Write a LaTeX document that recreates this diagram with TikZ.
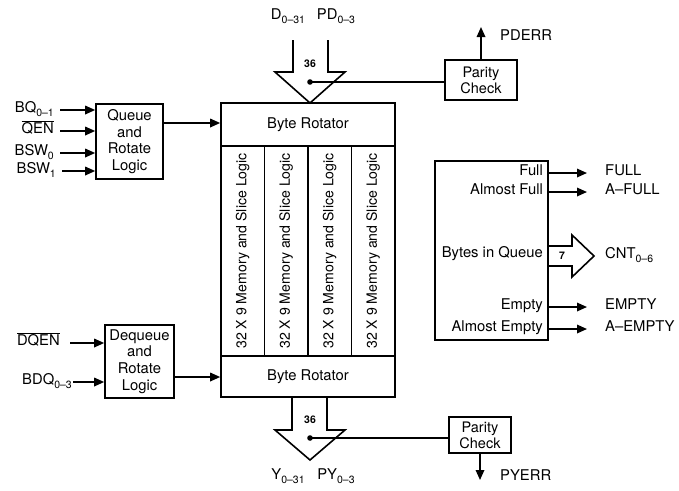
\documentclass[tikz,border=0pt]{standalone}
\usepackage{fontspec}
\setmainfont{TeX Gyre Heros}
\usetikzlibrary{arrows.meta}
\newcommand{\lsub}[1]{\raisebox{-0.45ex}{\fontsize{10.5}{10.5}\selectfont #1}}
\begin{document}
\begin{tikzpicture}[x=1pt,y=-1pt,
  every node/.style={font=\fontsize{14.8}{16.7}\selectfont, inner sep=0pt},
  box/.style={draw, line width=1.6pt, align=center},
  sig/.style={line width=1.7pt, -{Triangle[length=10pt,width=8.5pt]}},
  wire/.style={line width=1.5pt},
  fat/.style={line width=1.6pt, line join=miter},
  lbl/.style={anchor=mid east},
  olbl/.style={anchor=mid west},
  small/.style={font=\fontsize{10.5}{11}\selectfont\bfseries}]
\useasboundingbox (0,0) rectangle (679,490);

% main block
\node[box, minimum width=174pt, minimum height=43pt] (br1) at (308,124.5) {Byte Rotator};
\node[box, minimum width=174pt, minimum height=41pt] (br2) at (308,376.5) {Byte Rotator};
\foreach \i/\x in {1/242.75,2/286.25,3/329.75,4/373.25}{
  \node[box, rotate=90, minimum width=210pt, minimum height=43.5pt, font=\fontsize{14.1}{16}\selectfont] (col\i) at (\x,251) {32 X 9 Memory and Slice Logic};
}

% queue logic
\node[box, minimum width=67pt, minimum height=75pt] (qrl) at (129.5,141.5) {Queue\\and\\Rotate\\Logic};
\node[lbl] (bq) at (54,110) {BQ\lsub{0\textendash1}};
\node[lbl] (qen) at (54,131) {$\overline{\mbox{QEN}}$};
\node[lbl] (bsw0) at (54,153) {BSW\lsub{0}};
\node[lbl] (bsw1) at (56,171) {BSW\lsub{1}};
\foreach \n in {bq,qen,bsw0,bsw1}{
  \draw[sig, shorten <=6pt] (\n.mid east) -- (qrl.west |- \n.mid east);
}
\draw[sig] (qrl.east |- 0,123) -- (br1.west |- 0,123);

% dequeue logic
\node[box, minimum width=69pt, minimum height=73pt] (drl) at (139.5,361.5) {Dequeue\\and\\Rotate\\Logic};
\node[lbl] (dqen) at (60,343) {$\overline{\mbox{DQEN}}$};
\node[lbl] (bdq) at (72,382) {BDQ\lsub{0\textendash3}};
\draw[sig, shorten <=10pt] (dqen.mid east) -- (drl.west |- dqen.mid east);
\draw[sig, shorten <=1pt] (bdq.mid east) -- (drl.west |- bdq.mid east);
\draw[sig] (drl.east |- 0,377) -- (br2.west |- 0,377);

% top fat arrow & parity
\draw[fat] (293,40) -- (293,72) -- (275,72) -- (310,103) -- (345,72) -- (328,72) -- (328,40);
\node[small] (n36a) at (310,64) {36};
\node (din) at (288,16) {D\lsub{0\textendash31}};
\node (pdin) at (336,16) {PD\lsub{0\textendash3}};
\node[box, minimum width=72pt, minimum height=40pt, font=\fontsize{14.5}{16}\selectfont] (pc1) at (481,80) {Parity\\Check};
\coordinate (tdot) at (310,82);
\fill (tdot) circle (2.8pt);
\draw[wire] (tdot) -- (pc1.west |- tdot);
\coordinate (pdtip) at (481,27);
\draw[sig] (pc1.north) -- (pdtip);
\node[olbl] (pderr) at (500,38) {PDERR};

% bottom fat arrow & parity
\draw[fat] (292,397) -- (292,430) -- (275,430) -- (310,460) -- (345,430) -- (327,430) -- (327,397);
\node[small] (n36b) at (310,420) {36};
\node (yout) at (288,476) {Y\lsub{0\textendash31}};
\node (pyout) at (336,476) {PY\lsub{0\textendash3}};
\node[box, minimum width=62pt, minimum height=36pt, font=\fontsize{14.5}{16}\selectfont] (pc2) at (480,435) {Parity\\Check};
\coordinate (bdot) at (310,438);
\fill (bdot) circle (2.8pt);
\draw[wire] (bdot) -- (pc2.west |- bdot);
\coordinate (pytip) at (480,480);
\draw[sig] (pc2.south) -- (pytip);
\node[olbl] (pyerr) at (500,478) {PYERR};

% status box
\node[box, minimum width=113pt, minimum height=179pt] (sb) at (491.5,250.5) {};
\node[lbl] (fullL) at (543,173) {Full};
\node[lbl] (afullL) at (543,192) {Almost Full};
\node[lbl] (biqL) at (543,255) {Bytes in Queue};
\node[lbl] (emptyL) at (543,307) {Empty};
\node[lbl] (aemptyL) at (543,329) {Almost Empty};
\node[olbl] (fullO) at (605,173) {FULL};
\node[olbl] (afullO) at (605,192) {A\textendash FULL};
\node[olbl] (cntO) at (605,256) {CNT\lsub{0\textendash6}};
\node[olbl] (emptyO) at (605,307) {EMPTY};
\node[olbl] (aemptyO) at (605,329) {A\textendash EMPTY};
\foreach \a/\b in {fullL/fullO,afullL/afullO,emptyL/emptyO,aemptyL/aemptyO}{
  \draw[sig, shorten >=18pt] (sb.east |- \a.mid east) -- (\b.mid west);
}
\draw[fat] (sb.east |- 0,246) -- (572,246) -- (572,235) -- (594,256) -- (572,277) -- (572,266) -- (sb.east |- 0,266);
\node[small] (n7) at (562,256) {7};
\end{tikzpicture}
\end{document}
